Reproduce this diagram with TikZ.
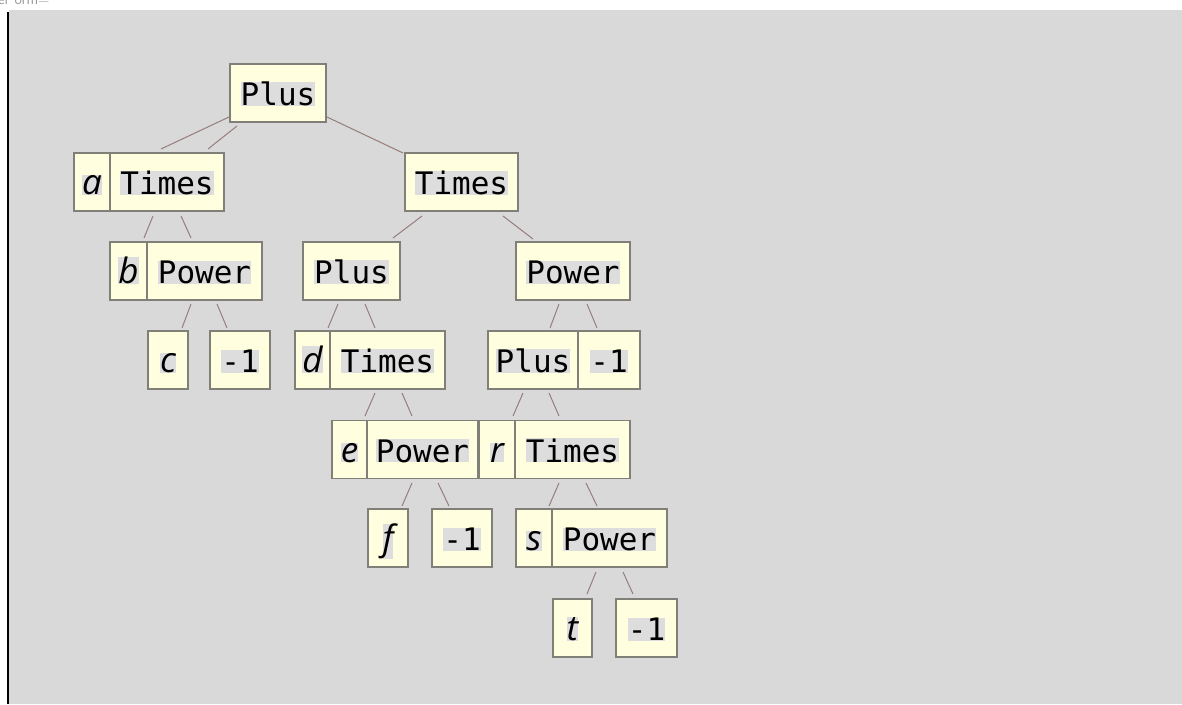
\documentclass[tikz,border=0pt]{standalone}
\usepackage{fontspec}
\setmonofont{DejaVu Sans Mono}
\newfontfamily\itf{Open Sans}
\usetikzlibrary{fit}
\definecolor{bg}{RGB}{217,217,217}
\definecolor{boxfill}{RGB}{255,255,224}
\definecolor{boxline}{RGB}{128,128,120}
\definecolor{hl}{RGB}{221,221,221}
\definecolor{edgecol}{RGB}{150,125,125}
\definecolor{toptext}{RGB}{150,150,150}
\tikzset{
  box/.style={draw=boxline, fill=boxfill, line width=1.5pt, inner sep=0pt},
  lbl/.style={fill=hl, inner sep=0pt, anchor=base, font=\fontsize{31}{31}\selectfont\ttfamily},
  ilbl/.style={fill=hl, inner sep=0pt, anchor=base, font=\fontsize{35}{35}\selectfont\itf\itshape},
  edgeline/.style={draw=edgecol, line width=1pt},
}
\newcommand\bx[6]{%
  \node[box, fit={(#2,#4-29) (#3,#4+29)}] (#1) {};
  \node[#5] (#1-t) at ([yshift=-12.5pt]#1.center) {#6};
}
\newcommand\ed[3]{%
  \coordinate (#1a) at (#2);
  \coordinate (#1b) at (#3);
  \draw[edgeline] (#1a) -- (#1b);
}
\begin{document}
\begin{tikzpicture}[x=1pt,y=-1pt]
\useasboundingbox (0,0) rectangle (1182,704);
\fill[bg] (9,10) rectangle (1182,704);
\draw[black, line width=2pt] (8,12) -- (8,704);
\node[anchor=base west, inner sep=0pt, text=toptext, font=\fontsize{15}{15}\selectfont\sffamily] (top) at (-2,5) {er orm=};
% row 1
\bx{plus1}{230}{326}{93}{lbl}{Plus}
% row 2
\bx{a}{74}{110}{182}{ilbl}{a}
\bx{times1}{110}{224}{182}{lbl}{Times}
\bx{times2}{405}{518}{182}{lbl}{Times}
% row 3
\bx{b}{110}{147}{271}{ilbl}{b}
\bx{power1}{147}{262}{271}{lbl}{Power}
\bx{plus2}{303}{400}{271}{lbl}{Plus}
\bx{power2}{516}{630}{271}{lbl}{Power}
% row 4
\bx{c}{148}{188}{360}{ilbl}{c}
\bx{m1}{210}{270}{360}{lbl}{-1}
\bx{d}{295}{330}{360}{ilbl}{d}
\bx{times3}{330}{445}{360}{lbl}{Times}
\bx{plus3}{488}{578}{360}{lbl}{Plus}
\bx{m2}{578}{640}{360}{lbl}{-1}
% row 5
\bx{e}{332}{367}{449.5}{ilbl}{e}
\bx{power3}{367}{478}{449.5}{lbl}{Power}
\bx{r}{479}{515}{449.5}{ilbl}{r}
\bx{times4}{515}{630}{449.5}{lbl}{Times}
% row 6
\bx{f}{368}{408}{538}{ilbl}{f}
\bx{m3}{432}{492}{538}{lbl}{-1}
\bx{s}{516}{552}{538}{ilbl}{s}
\bx{power4}{552}{667}{538}{lbl}{Power}
% row 7
\bx{t}{553}{592}{628}{ilbl}{t}
\bx{m4}{616}{677}{628}{lbl}{-1}
% edges
\ed{e1}{229,117}{161,149}
\ed{e2}{237,126}{208,149}
\ed{e3}{327,117}{403,153}
\ed{e4}{153,216}{144,238}
\ed{e5}{181,216}{191,238}
\ed{e6}{422,216}{393,238}
\ed{e7}{503,216}{533,239}
\ed{e8}{191,304}{182,328}
\ed{e9}{217,304}{227,328}
\ed{e10}{338,304}{328,328}
\ed{e11}{365,304}{375,328}
\ed{e12}{559,304}{550,328}
\ed{e13}{587,304}{597,328}
\ed{e14}{375,393}{365,416}
\ed{e15}{402,393}{412,416}
\ed{e16}{523,393}{513,416}
\ed{e17}{549,393}{559,416}
\ed{e18}{412,483}{402,506}
\ed{e19}{438,483}{449,506}
\ed{e20}{559,483}{549,506}
\ed{e21}{586,483}{597,506}
\ed{e22}{596,572}{587,594}
\ed{e23}{623,572}{633,594}
\end{tikzpicture}
\end{document}
